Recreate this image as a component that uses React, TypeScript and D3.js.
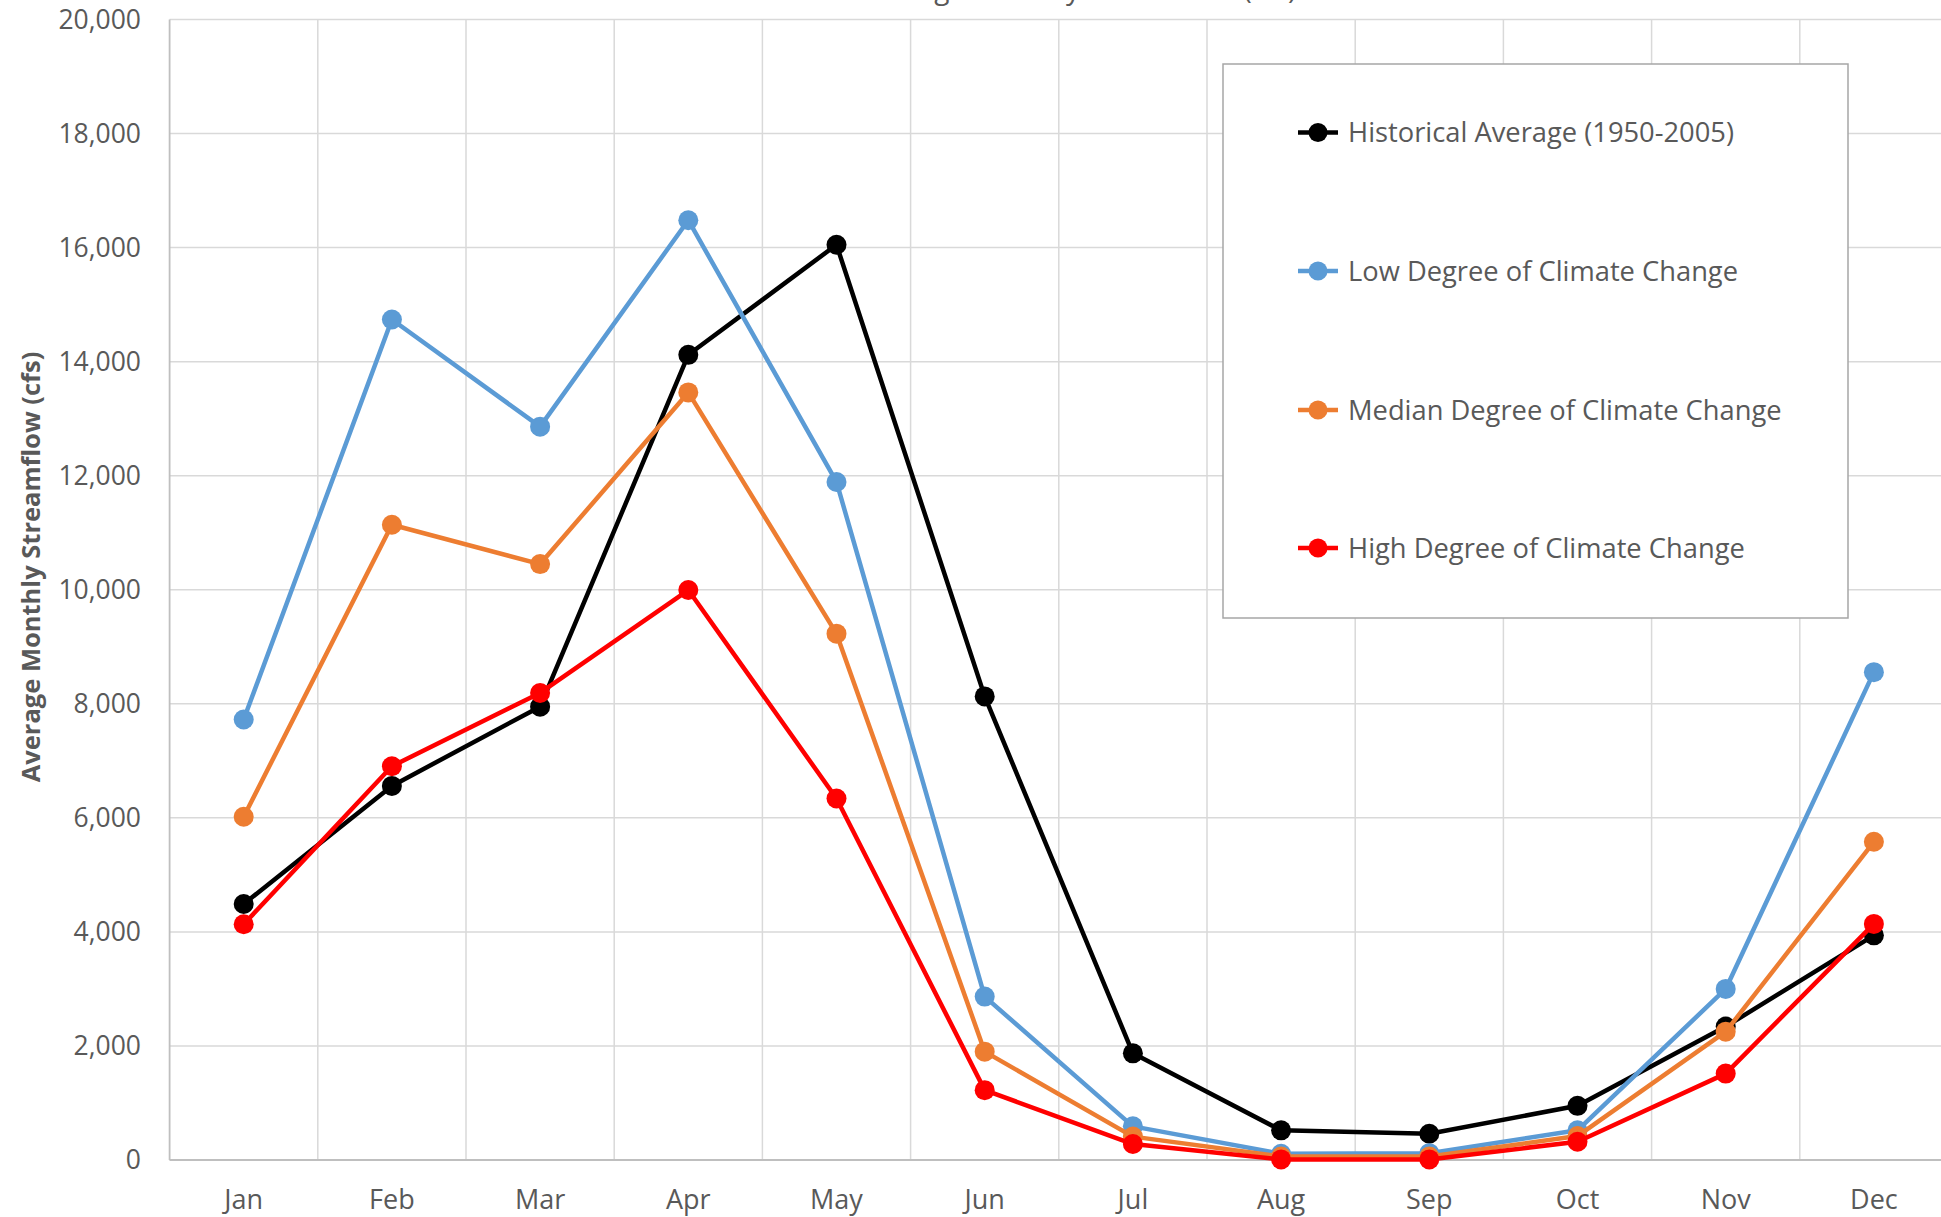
import React from "react";
import * as d3 from "d3";

const months = ["Jan", "Feb", "Mar", "Apr", "May", "Jun", "Jul", "Aug", "Sep", "Oct", "Nov", "Dec"];
const historical = [4490, 6560, 7950, 14120, 16050, 8130, 1870, 520, 460, 950, 2340, 3940];
const lowChange = [7725, 14740, 12860, 16480, 11890, 2865, 590, 110, 120, 520, 3000, 8555];
const medianChange = [6020, 11140, 10450, 13460, 9230, 1900, 410, 60, 60, 420, 2250, 5580];
const highChange = [4135, 6905, 8190, 9995, 6340, 1225, 280, 10, 10, 320, 1515, 4140];
const seriesNames = [
  "Historical Average (1950-2005)",
  "Low Degree of Climate Change",
  "Median Degree of Climate Change",
  "High Degree of Climate Change",
];
const seriesColors = ["#000000", "#5b9bd5", "#ed7d31", "#ff0000"];
const yTicks = [0, 2000, 4000, 6000, 8000, 10000, 12000, 14000, 16000, 18000, 20000];
const titleText = "Average Monthly Streamflow (cfs)";
const yAxisTitle = "Average Monthly Streamflow (cfs)";

const W = 1941;
const H = 1217;
const FONT = "'Open Sans', 'Noto Sans', sans-serif";

export default function App() {
  const left = 169.6;
  const bandW = 148.2;
  const top = 19.5;
  const bottom = 1160;
  const right = left + bandW * months.length;

  const x = d3.scaleBand<string>().domain(months).range([left, right]).paddingInner(0).paddingOuter(0);
  const y = d3.scaleLinear().domain([0, 20000]).range([bottom, top]);
  const fmt = d3.format(",");
  const cx = (m: string) => (x(m) as number) + x.bandwidth() / 2;

  const data = [historical, lowChange, medianChange, highChange];
  const line = d3
    .line<number>()
    .x((_, i) => cx(months[i]))
    .y((v) => y(v));

  const legendX = 1223;
  const legendY = 64;
  const legendW = 625;
  const legendH = 554;
  const legendRows = [132.5, 271, 410, 548];

  return (
    <svg
      width={W}
      height={H}
      style={{ position: "absolute", left: 0, top: 0, background: "#fff" }}
      fontFamily={FONT}
    >
      <rect x={0} y={0} width={W} height={H} fill="#fff" />
      <text x={1078} y={-1} textAnchor="middle" fontSize={28} fill="#595959">
        {titleText}
      </text>
      {/* horizontal gridlines */}
      {yTicks.map((t) => (
        <line key={"h" + t} x1={left} x2={W} y1={y(t)} y2={y(t)} stroke="#d9d9d9" strokeWidth={1.5} />
      ))}
      {/* vertical gridlines */}
      {months.slice(1).map((m) => (
        <line
          key={"v" + m}
          x1={x(m) as number}
          x2={x(m) as number}
          y1={top}
          y2={bottom}
          stroke="#d9d9d9"
          strokeWidth={1.5}
        />
      ))}
      {/* axes */}
      <line x1={left} x2={left} y1={top} y2={bottom} stroke="#bfbfbf" strokeWidth={1.8} />
      <line x1={left} x2={W} y1={bottom} y2={bottom} stroke="#bfbfbf" strokeWidth={1.8} />
      {/* y tick labels */}
      {yTicks.map((t) => (
        <text
          key={"yl" + t}
          x={141}
          y={y(t)}
          dy="0.35em"
          textAnchor="end"
          fontSize={26.5}
          fill="#595959"
        >
          {fmt(t)}
        </text>
      ))}
      {/* x tick labels */}
      {months.map((m) => (
        <text key={"xl" + m} x={cx(m)} y={1209} textAnchor="middle" fontSize={27} fill="#595959">
          {m}
        </text>
      ))}
      {/* y axis title */}
      <text
        transform={`translate(40, ${567}) rotate(-90)`}
        textAnchor="middle"
        fontSize={25.5}
        fontWeight="bold"
        fill="#595959"
      >
        {yAxisTitle}
      </text>
      {/* series */}
      {data.map((vals, si) => (
        <g key={"s" + si}>
          <path d={line(vals) || ""} fill="none" stroke={seriesColors[si]} strokeWidth={4.5} strokeLinejoin="round" />
          {vals.map((v, i) => (
            <circle key={i} cx={cx(months[i])} cy={y(v)} r={10} fill={seriesColors[si]} />
          ))}
        </g>
      ))}
      {/* legend */}
      <rect x={legendX} y={legendY} width={legendW} height={legendH} fill="#fff" stroke="#a6a6a6" strokeWidth={1.5} />
      {seriesNames.map((name, i) => (
        <g key={"lg" + i}>
          <line x1={1298} x2={1338} y1={legendRows[i]} y2={legendRows[i]} stroke={seriesColors[i]} strokeWidth={4.5} />
          <circle cx={1318} cy={legendRows[i]} r={9.5} fill={seriesColors[i]} />
          <text x={1348} y={legendRows[i]} dy="0.35em" fontSize={27.3} fill="#595959">
            {name}
          </text>
        </g>
      ))}
    </svg>
  );
}
